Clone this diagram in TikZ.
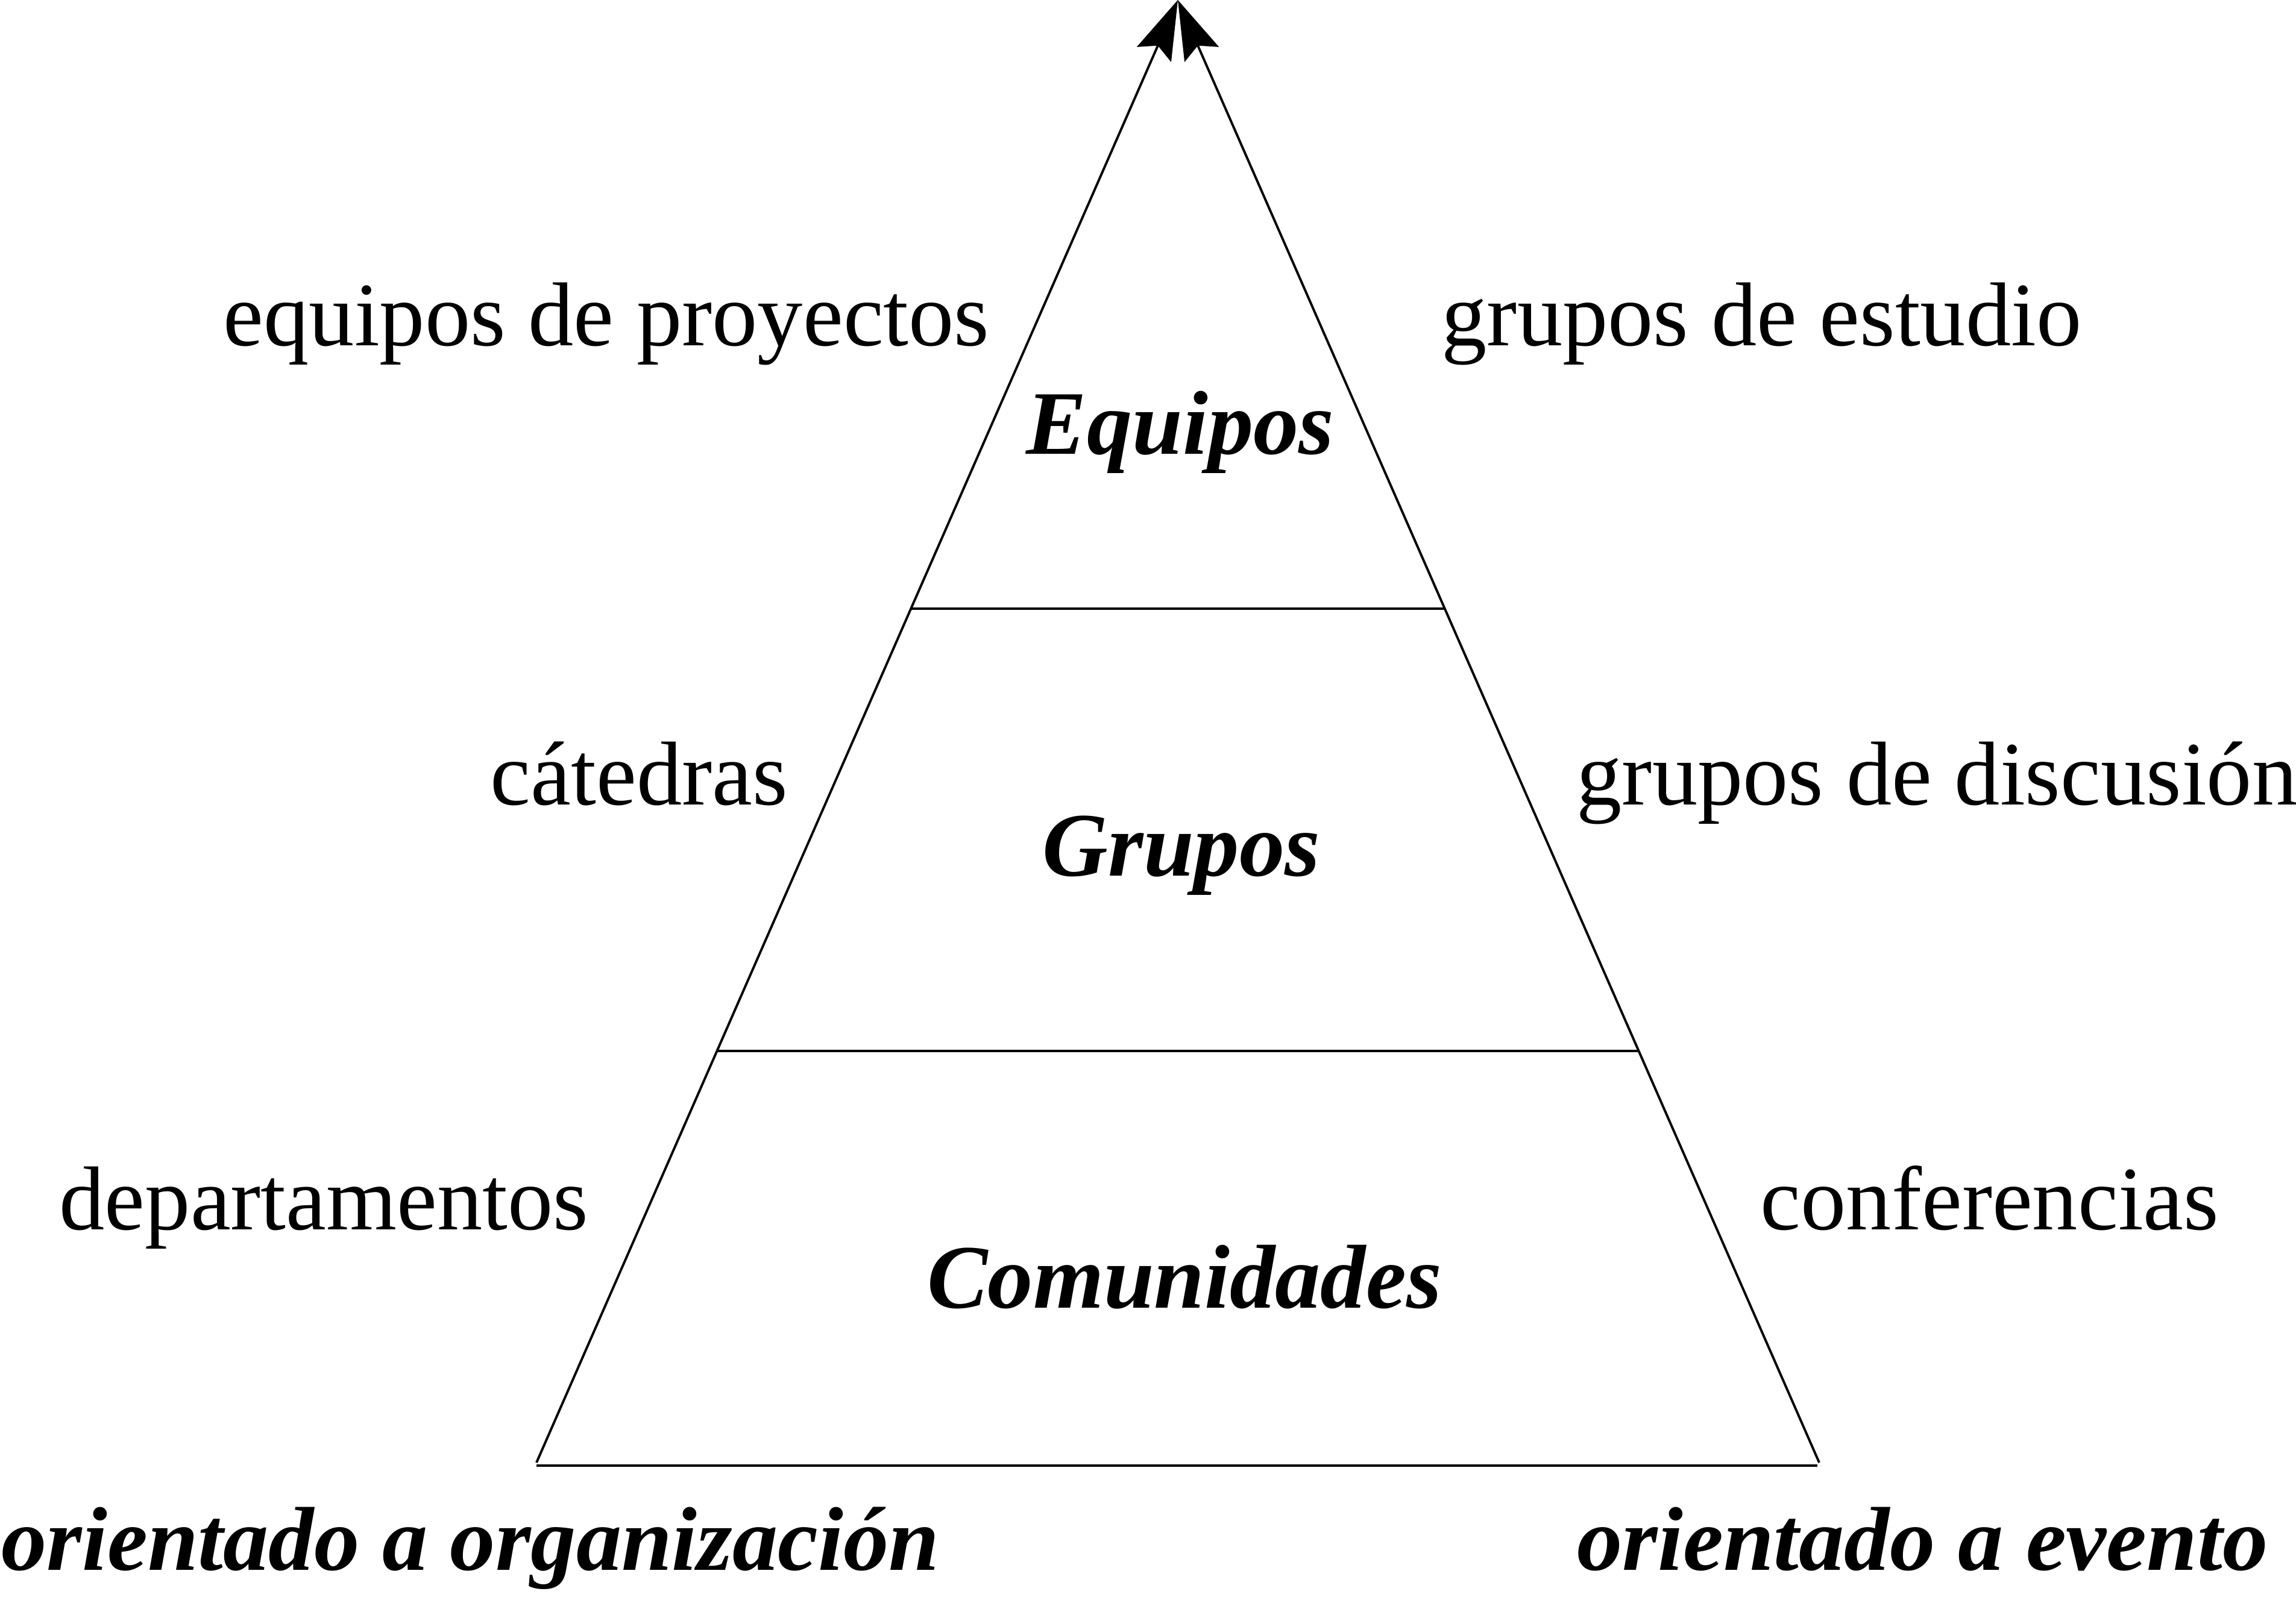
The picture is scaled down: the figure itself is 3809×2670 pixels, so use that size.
\documentclass[tikz,border=0pt]{standalone}
\usepackage{fontspec}
\setmainfont{Liberation Serif}
\usetikzlibrary{arrows.meta,calc}
\tikzset{
  texto/.style={inner sep=0, font=\fontsize{42.8}{50}\selectfont},
  nivel/.style={inner sep=0, font=\fontsize{42.8}{50}\selectfont\bfseries\itshape},
  lado/.style={line width=1.1pt, -{Stealth[length=28pt, width=17.6pt, inset=4.5pt]}},
  raya/.style={line width=1pt}
}
\begin{document}
\begin{tikzpicture}[x=0.01cm, y=-0.01cm]
                \useasboundingbox (0, 0) rectangle (3809, 2670);
                \coordinate (apex) at (1954, 0);
                \coordinate (izq) at (890, 2427);
                \coordinate (der) at (3018, 2427);
                \coordinate (bizq) at (890, 2432);
                \coordinate (bder) at (3015, 2432);
                \draw [lado] (izq) -- (apex);
                \draw [lado] (der) -- (apex);
                \draw [raya] (bizq) -- (bder);
                \draw [raya] ($(izq)!.5838!(apex)$) -- ($(der)!.5838!(apex)$);
                \draw [raya] ($(izq)!.2814!(apex)$) -- ($(der)!.2814!(apex)$);
                \node [nivel, anchor=base] (equipos) at (1958, 753) {Equipos};
                \node [nivel, anchor=base] (grupos) at (1960, 1453) {Grupos};
                \node [nivel, anchor=base] (comunidades) at (1965, 2170)
                    {Comunidades};
                \node [texto, anchor=base west] (proyectos) at (370, 573)
                    {equipos de proyectos};
                \node [texto, anchor=base west] (estudio) at (2391, 573)
                    {grupos de estudio};
                \node [texto, anchor=base west] (catedras) at (813, 1335)
                    {cátedras};
                \node [texto, anchor=base west] (discusion) at (2615, 1335)
                    {grupos de discusión};
                \node [texto, anchor=base west] (deptos) at (98, 2040)
                    {departamentos};
                \node [texto, anchor=base west] (conferencias) at (2920, 2040)
                    {conferencias};
                \node [nivel, anchor=base west] (organizacion) at (2, 2605)
                    {orientado a organización};
                \node [nivel, anchor=base west] (evento) at (2616, 2605)
                    {orientado a evento};
\end{tikzpicture}
\end{document}
